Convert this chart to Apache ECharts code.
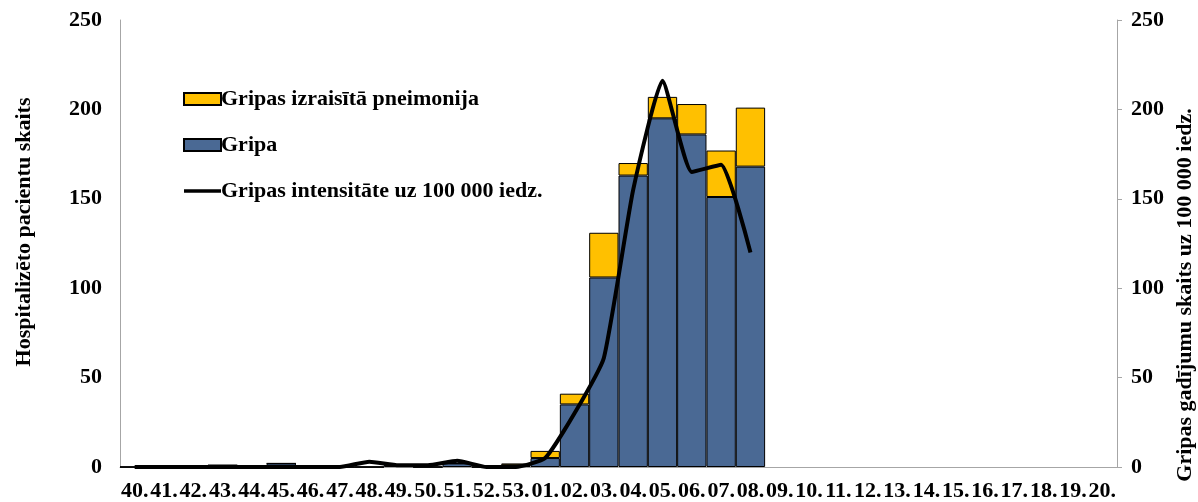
<!DOCTYPE html>
<html>
<head>
<meta charset="utf-8">
<script src="https://cdn.jsdelivr.net/npm/echarts@6/dist/echarts.min.js"></script>
<style>
  html, body { margin: 0; padding: 0; background: #fff; }
  #chart { width: 1198px; height: 502px; }
</style>
</head>
<body>
<div id="chart"></div>
<script>
// nedēļas
const weeks = ['40','41','42','43','44','45','46','47','48','49','50','51','52','53',
  '01','02','03','04','05','06','07','08','09','10','11','12','13','14','15','16','17','18','19','20']

// hospitalizēti - gripa
const gripa = [0,0,0,1,0,2,0,0,0,1,0,2,0,1,5,35,106,163,195,186,151,168,
  null,null,null,null,null,null,null,null,null,null,null,null]
// hospitalizēti - gripas izraisīta pneimonija
const pneimonija = [0,0,0,0,0,0,0,0,0,0,0,0,0,1,4,6,25,7,12,17,26,33,
  null,null,null,null,null,null,null,null,null,null,null,null]
// intensitāte uz 100 000 iedz.
const intensitate = [0,0,0,0,0,0,0,0,3,1,1,3.5,0,0,5,30,61,155,216,165,169,120,
  null,null,null,null,null,null,null,null,null,null,null,null]

const yTicks = [0, 50, 100, 150, 200, 250]

const font = 'Liberation Serif'
const myChart = echarts.init(document.getElementById('chart'))

const option = {
  animation: false,
  textStyle: { fontFamily: font },
  grid: { left: 120, right: 81, top: 20, bottom: 35 },
  legend: {
    orient: 'vertical',
    left: 178,
    top: 83,
    itemWidth: 37,
    itemHeight: 12,
    itemGap: 24,
    data: [
      { name: 'Gripas izraisītā pneimonija', icon: 'rect' },
      { name: 'Gripa', icon: 'rect' },
      { name: 'Gripas intensitāte uz 100 000 iedz.', icon: 'path://M0,0L100,0L100,9L0,9Z' }
    ],
    textStyle: { fontFamily: font, fontWeight: 'bold', fontSize: 22, color: '#000', padding: [0, 0, 0, -5] }
  },
  xAxis: {
    type: 'category',
    data: weeks,
    axisLine: { lineStyle: { color: '#a6a6a6', width: 1 } },
    axisTick: { show: false },
    axisLabel: {
      interval: 0,
      margin: 13,
      fontFamily: font,
      fontWeight: 'bold',
      fontSize: 22,
      color: '#000',
      formatter: v => v + '.'
    }
  },
  yAxis: [
    {
      type: 'value',
      min: yTicks[0],
      max: yTicks[yTicks.length - 1],
      interval: 50,
      splitLine: { show: false },
      axisLine: { show: true, lineStyle: { color: '#a6a6a6' } },
      axisTick: { show: false },
      axisLabel: { margin: 18, fontFamily: font, fontWeight: 'bold', fontSize: 22, color: '#000' }
    },
    {
      type: 'value',
      min: yTicks[0],
      max: yTicks[yTicks.length - 1],
      interval: 50,
      splitLine: { show: false },
      axisLine: { show: true, lineStyle: { color: '#a6a6a6' } },
      axisTick: { show: true, length: 5, lineStyle: { color: '#a6a6a6' } },
      axisLabel: { margin: 14, fontFamily: font, fontWeight: 'bold', fontSize: 22, color: '#000' }
    }
  ],
  graphic: [
    {
      type: 'text',
      x: 24, y: 232,
      rotation: Math.PI / 2,
      style: {
        text: 'Hospitalizēto pacientu skaits',
        font: 'bold 22px "Liberation Serif"',
        fill: '#000',
        align: 'center',
        verticalAlign: 'middle'
      }
    },
    {
      type: 'text',
      x: 1185, y: 295,
      rotation: Math.PI / 2,
      style: {
        text: 'Gripas gadījumu skaits uz 100 000 iedz.',
        font: 'bold 22px "Liberation Serif"',
        fill: '#000',
        align: 'center',
        verticalAlign: 'middle'
      }
    }
  ],
  series: [
    {
      name: 'Gripa',
      type: 'bar',
      stack: 'hosp',
      data: gripa,
      barCategoryGap: 0,
      itemStyle: { color: '#4a6994', borderColor: '#000', borderWidth: 1 }
    },
    {
      name: 'Gripas izraisītā pneimonija',
      type: 'bar',
      stack: 'hosp',
      data: pneimonija,
      barCategoryGap: 0,
      itemStyle: { color: '#ffc000', borderColor: '#000', borderWidth: 1 }
    },
    {
      name: 'Gripas intensitāte uz 100 000 iedz.',
      type: 'line',
      yAxisIndex: 1,
      data: intensitate,
      smooth: 0.15,
      symbol: 'none',
      lineStyle: { color: '#000', width: 4 },
      itemStyle: { color: '#000' }
    }
  ]
}

myChart.setOption(option)
</script>
</body>
</html>
